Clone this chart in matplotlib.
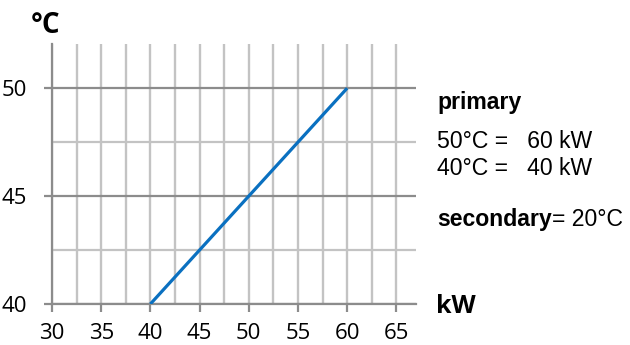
import matplotlib
matplotlib.use("Agg")
import matplotlib.pyplot as plt
from matplotlib.ticker import MultipleLocator

# data
power_kw = [40, 60]
temp_c = [40, 50]
x_ticks = [30, 35, 40, 45, 50, 55, 60, 65]
y_ticks = [40, 45, 50]
y_unit = "°C"
x_unit = "kW"
notes_bold_1 = "primary"
notes_line_1 = "50°C =   60 kW"
notes_line_2 = "40°C =   40 kW"
notes_bold_2 = "secondary"
notes_tail_2 = "= 20°C"

W, H = 630, 345
fig = plt.figure(figsize=(W / 100, H / 100), dpi=100)
ax = fig.add_axes([52 / W, 1 - 304 / H, (416 - 52) / W, (304 - 44) / H])
ax.set_xlim(30, 67)
ax.set_ylim(40, 52.05)

dark = "#8c8c8c"
light = "#c3c3c3"

ax.xaxis.set_major_locator(plt.FixedLocator(x_ticks))
ax.yaxis.set_major_locator(plt.FixedLocator(y_ticks))
ax.xaxis.set_minor_locator(MultipleLocator(2.5))
ax.yaxis.set_minor_locator(MultipleLocator(2.5))

ax.grid(which="major", axis="y", color=dark, lw=1.6)
ax.grid(which="minor", axis="y", color=light, lw=1.6)
ax.grid(which="both", axis="x", color=light, lw=1.7)
ax.set_axisbelow(True)

for s in ["top", "right"]:
    ax.spines[s].set_visible(False)
ax.spines["left"].set_color(dark)
ax.spines["left"].set_linewidth(1.6)
ax.spines["bottom"].set_color(dark)
ax.spines["bottom"].set_linewidth(1.6)

ax.tick_params(which="major", axis="x", length=5.5, width=1.6, color=dark, pad=8.5,
               labelsize=16)
ax.tick_params(which="major", axis="y", length=6, width=1.6, color=dark, pad=12,
               labelsize=16)
ax.tick_params(which="minor", length=0)
for lab in ax.get_xticklabels() + ax.get_yticklabels():
    lab.set_fontfamily("Open Sans")

ax.plot(power_kw, temp_c, color="#0a70c0", lw=2.3, solid_capstyle="butt", zorder=3)

def fy(px):
    return 1 - px / H

fig.text(31 / W, fy(33), y_unit, fontfamily="Open Sans", fontweight="bold",
         fontsize=20, va="baseline", ha="left")
fig.text(436 / W, fy(313), x_unit, fontfamily="Open Sans", fontweight="bold",
         fontsize=18, va="baseline", ha="left")

fs = 16.6
fig.text(437 / W, fy(109), notes_bold_1, fontfamily="Liberation Sans",
         fontweight="bold", fontsize=fs, va="baseline", ha="left")
fig.text(437 / W, fy(148), notes_line_1, fontfamily="Liberation Sans",
         fontsize=fs, va="baseline", ha="left")
fig.text(437 / W, fy(175), notes_line_2, fontfamily="Liberation Sans",
         fontsize=fs, va="baseline", ha="left")
t = fig.text(437 / W, fy(226), notes_bold_2, fontfamily="Liberation Sans",
             fontweight="bold", fontsize=fs, va="baseline", ha="left")
fig.canvas.draw()
bb = t.get_window_extent()
fig.text(bb.x1 / W, fy(226), notes_tail_2, fontfamily="Liberation Sans",
         fontsize=fs, va="baseline", ha="left")

fig.savefig("out.png", dpi=100)
